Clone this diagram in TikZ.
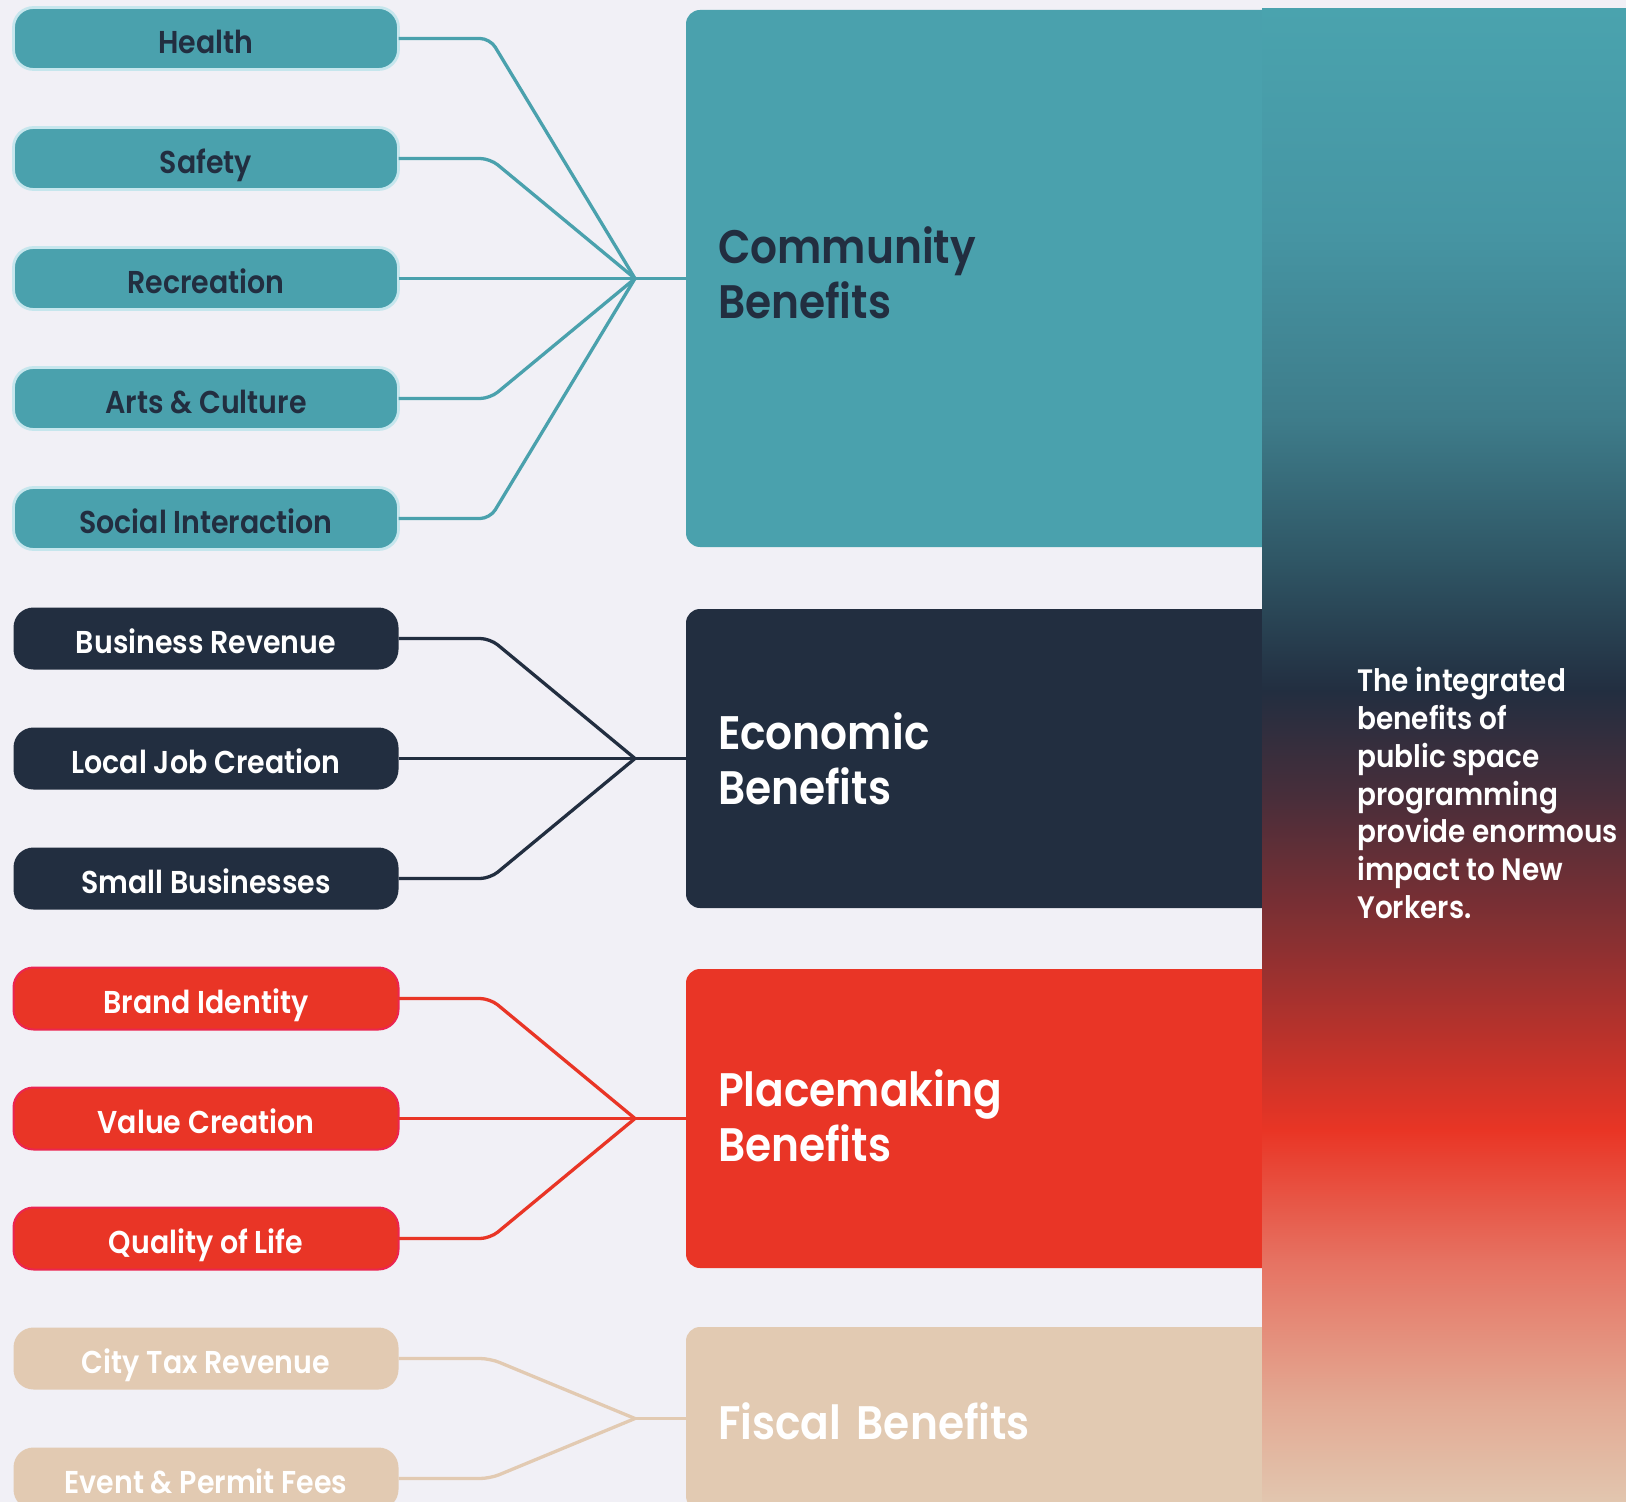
\documentclass[tikz,border=0pt]{standalone}
\usepackage{fontspec}
\setmainfont{Poppins}[UprightFont={* SemiBold}, FakeStretch=0.9]
\usetikzlibrary{positioning}
\definecolor{pagebg}{HTML}{F1F0F6}
\definecolor{cteal}{HTML}{4AA1AD}
\definecolor{ctealrim}{HTML}{C6E6ED}
\definecolor{cnavy}{HTML}{222E40}
\definecolor{cred}{HTML}{E93526}
\definecolor{credrim}{HTML}{EC2450}
\definecolor{cbeige}{HTML}{E2CAB2}
% stops of the side band, top to bottom
\definecolor{g0}{HTML}{4AA3AE}
\definecolor{g1}{HTML}{4695A3}
\definecolor{g2}{HTML}{3E7C8A}
\definecolor{g3}{HTML}{2F5665}
\definecolor{g4}{HTML}{222E40}
\definecolor{g5}{HTML}{4A2E3A}
\definecolor{g6}{HTML}{8E3031}
\definecolor{g7}{HTML}{E93525}
\definecolor{g8}{HTML}{E67262}
\definecolor{g9}{HTML}{E3A892}
\definecolor{g10}{HTML}{E2C6AF}
\tikzset{
  pill/.style={
    rounded corners=10pt,
    minimum width=192.5pt,
    minimum height=31pt,
    inner sep=0pt,
    outer sep=0pt,
    text height=16pt,
    text depth=1pt,
    align=center,
    font=\fontsize{15.8}{18}\selectfont
  },
  commpill/.style={pill,fill=cteal,draw=ctealrim,line width=1.4pt,text=cnavy},
  econpill/.style={pill,fill=cnavy,text=white},
  placepill/.style={pill,fill=cred,draw=credrim,line width=1pt,text=white},
  fiscpill/.style={pill,fill=cbeige,text=white},
  bigbox/.style={
    rounded corners=7pt,
    anchor=west,
    minimum width=310pt,
    text width=278pt,
    inner xsep=16pt,
    outer sep=0pt,
    align=left,
    font=\fontsize{23.5}{27.5}\selectfont
  },
  spoke/.style={line width=1.65pt,rounded corners=5pt},
  sidenote/.style={
    anchor=north west,
    inner sep=0pt,
    align=left,
    text=white,
    font=\fontsize{15.5}{18.9}\selectfont
  }
}

\begin{document}
\begin{tikzpicture}[x=0.5pt,y=-0.5pt,node distance=29pt]
  \useasboundingbox[fill=pagebg] (0,0) rectangle (1626,1502);

  % left column of pills
  \node[commpill] (health) at (206,38.5) {Health};
  \node[commpill,below=of health] (safety) {Safety};
  \node[commpill,below=of safety] (recreation) {Recreation};
  \node[commpill,below=of recreation] (arts) {Arts \& Culture};
  \node[commpill,below=of arts] (social) {Social Interaction};
  \node[econpill,below=of social] (revenue) {Business Revenue};
  \node[econpill,below=of revenue] (jobs) {Local Job Creation};
  \node[econpill,below=of jobs] (smallbiz) {Small Businesses};
  \node[placepill,below=of smallbiz] (brand) {Brand Identity};
  \node[placepill,below=of brand] (value) {Value Creation};
  \node[placepill,below=of value] (life) {Quality of Life};
  \node[fiscpill,below=of life] (citytax) {City Tax Revenue};
  \node[fiscpill,below=of citytax] (fees) {Event \& Permit Fees};

  % benefit blocks
  \node[bigbox,fill=cteal,text=cnavy,minimum height=268.5pt,text depth=33.5pt] (community)
    at (686,278.5) {Community\\Benefits};
  \node[bigbox,fill=cnavy,text=white,minimum height=149.5pt] (economic)
    at (686,758.5) {Economic\\Benefits};
  \node[bigbox,fill=cred,text=white,minimum height=149.5pt,text depth=30.5pt] (placemaking)
    at (686,1118.5) {Placemaking\\Benefits};
  \node[bigbox,fill=cbeige,text=white,minimum height=91.5pt,text height=21.4pt] (fiscal)
    at (686,1418.5) {Fiscal Benefits};

  % fan-in points
  \coordinate (cbend) at (490,0);
  \coordinate[left=25.5pt of community.west] (chub);
  \coordinate[left=25.5pt of economic.west] (ehub);
  \coordinate[left=25.5pt of placemaking.west] (phub);
  \coordinate[left=25.5pt of fiscal.west] (fhub);

  \foreach \p in {health,safety,arts,social}
    \draw[spoke,draw=cteal] (\p.east) -- (\p.east -| cbend) -- (chub);
  \draw[spoke,draw=cteal] (recreation.east) -- (community.west);

  \foreach \p in {revenue,smallbiz}
    \draw[spoke,draw=cnavy] (\p.east) -- (\p.east -| cbend) -- (ehub);
  \draw[spoke,draw=cnavy] (jobs.east) -- (economic.west);

  \foreach \p in {brand,life}
    \draw[spoke,draw=cred] (\p.east) -- (\p.east -| cbend) -- (phub);
  \draw[spoke,draw=cred] (value.east) -- (placemaking.west);

  \foreach \p in {citytax,fees}
    \draw[spoke,draw=cbeige] (\p.east) -- (\p.east -| cbend) -- (fhub);
  \draw[spoke,draw=cbeige] (fhub) -- (fiscal.west);

  % side band
  \foreach \ya/\yb/\ca/\cb in {9/231/g0/g1,230/421/g1/g2,420/561/g2/g3,
      560/691/g3/g4,690/801/g4/g5,800/951/g5/g6,950/1131/g6/g7,
      1130/1261/g7/g8,1260/1401/g8/g9,1400/1502/g9/g10}
    \shade[top color=\ca,bottom color=\cb] (1262,\ya) rectangle (1626,\yb);

  \node[sidenote] (impact) at (1357,667)
    {The integrated\\benefits of\\public space\\programming\\provide enormous\\impact to New\\Yorkers.};
\end{tikzpicture}
\end{document}
